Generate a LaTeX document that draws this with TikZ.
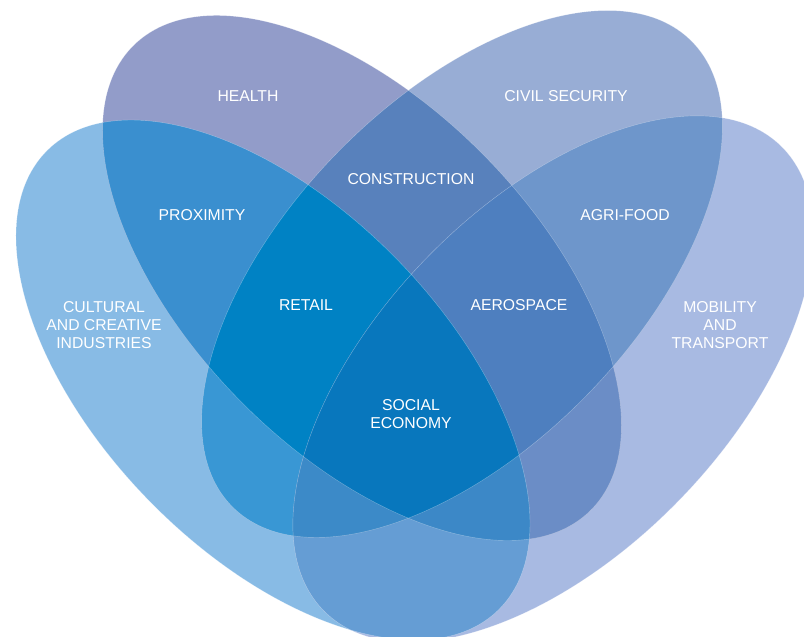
\documentclass[tikz,border=0pt]{standalone}
\usepackage{fontspec}
\setmainfont{Liberation Sans}
\usepackage{tikz}
\usetikzlibrary{positioning}
% single sectors
\definecolor{healthcol}{HTML}{929CC9}
\definecolor{civilcol}{HTML}{98ADD5}
\definecolor{culturecol}{HTML}{88BBE5}
\definecolor{mobilcol}{HTML}{A8BAE2}
% overlaps
\definecolor{hcivil}{HTML}{5881BC}
\definecolor{hculture}{HTML}{3A8FCF}
\definecolor{hmobil}{HTML}{6B8DC6}
\definecolor{ccivil}{HTML}{3997D4}
\definecolor{cmobil}{HTML}{659DD4}
\definecolor{civmobil}{HTML}{6E96CB}
\definecolor{retailcol}{HTML}{0082C4}
\definecolor{aerocol}{HTML}{4E7FBF}
\definecolor{ccivmobil}{HTML}{3C8AC8}
\definecolor{hcmobil}{HTML}{3C88C7}
\definecolor{socialcol}{HTML}{0877BD}

% the four petals (pixel grid, y downwards)
\newcommand{\health}{[rotate around={-45.6:(362,278)}] (362,278) ellipse (326 and 173)}
\newcommand{\culture}{[rotate around={-45.6:(273,380)}] (273,380) ellipse (322 and 173)}
\newcommand{\civil}{[rotate around={45.6:(462,274)}] (462,274) ellipse (327 and 174)}
\newcommand{\mobil}{[rotate around={45.6:(553,379)}] (553,379) ellipse (326 and 175)}

\tikzset{
  petal/.style={text=white,font=\fontsize{11.2}{12.8}\selectfont,align=center},
  seam/.style={draw=white,draw opacity=.35,line width=.3pt}
}

\begin{document}
\begin{tikzpicture}[x=0.025cm,y=-0.025cm]
\useasboundingbox (0,0) rectangle (804,637);
\clip (0,0) rectangle (804,637);
% one sector
\fill[culturecol] \culture;
\fill[mobilcol] \mobil;
\fill[healthcol] \health;
\fill[civilcol] \civil;
% two sectors
\begin{scope}\clip \health; \fill[hcivil] \civil; \end{scope}
\begin{scope}\clip \health; \fill[hculture] \culture; \end{scope}
\begin{scope}\clip \health; \fill[hmobil] \mobil; \end{scope}
\begin{scope}\clip \culture; \fill[ccivil] \civil; \end{scope}
\begin{scope}\clip \culture; \fill[cmobil] \mobil; \end{scope}
\begin{scope}\clip \civil; \fill[civmobil] \mobil; \end{scope}
% three sectors
\begin{scope}\clip \health; \clip \culture; \fill[retailcol] \civil; \end{scope}
\begin{scope}\clip \health; \clip \civil; \fill[aerocol] \mobil; \end{scope}
\begin{scope}\clip \culture; \clip \civil; \fill[ccivmobil] \mobil; \end{scope}
\begin{scope}\clip \health; \clip \culture; \fill[hcmobil] \mobil; \end{scope}
% all four
\begin{scope}\clip \health; \clip \culture; \clip \civil; \fill[socialcol] \mobil; \end{scope}
% thin seams
\path[seam] \health;
\path[seam] \civil;
\path[seam] \culture;
\path[seam] \mobil;

\node[petal] (health) at (248,96) {HEALTH};
\node[petal] (civil) at (566,96) {CIVIL SECURITY};
\node[petal] (constr) at (411,179) {CONSTRUCTION};
\node[petal] (prox) at (202,215) {PROXIMITY};
\node[petal] (agri) at (625,215) {AGRI-FOOD};
\node[petal] (retail) at (306,305) {RETAIL};
\node[petal] (aero) at (519,305) {AEROSPACE};
\node[petal] (culture) at (104,325) {CULTURAL\\AND CREATIVE\\INDUSTRIES};
\node[petal] (mobil) at (720,325) {MOBILITY\\AND\\TRANSPORT};
\node[petal] (social) at (411,414) {SOCIAL\\ECONOMY};
\end{tikzpicture}
\end{document}
